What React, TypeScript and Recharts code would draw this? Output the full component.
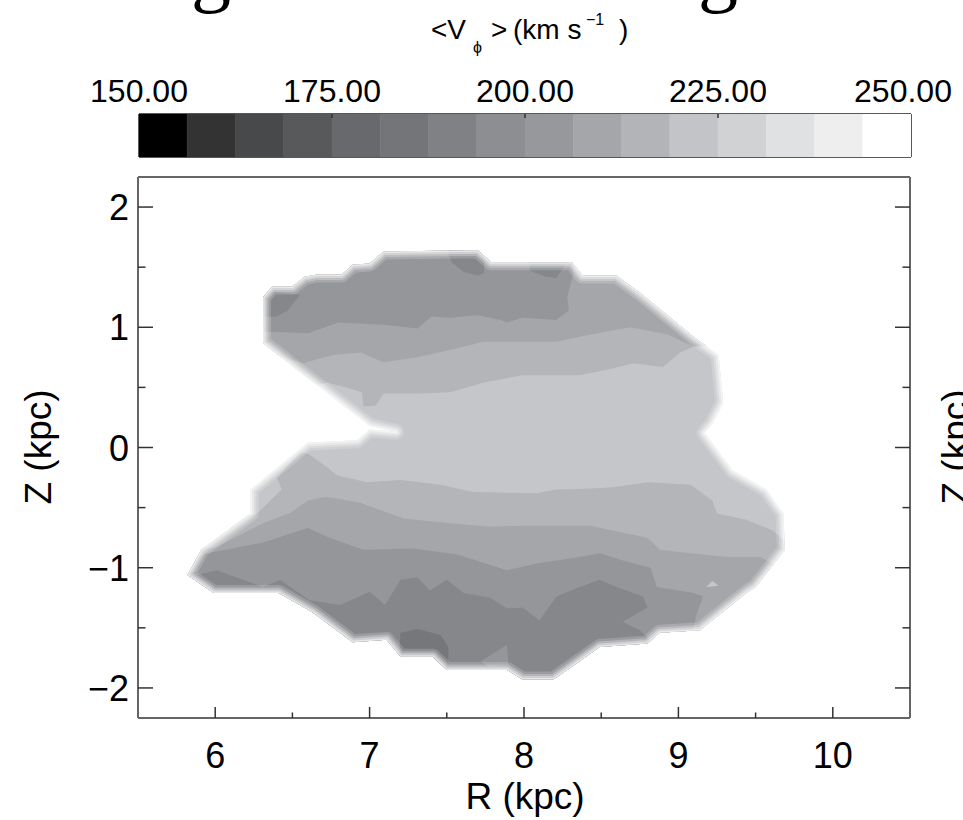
import React from 'react';
import { ComposedChart, Scatter, XAxis, YAxis } from 'recharts';

const FONT = '"Liberation Sans", Arial, Helvetica, sans-serif';

// ---------- colour bar ----------
const cbEdges = [150, 156.25, 162.5, 168.75, 175, 181.25, 187.5, 193.75, 200, 206.25, 212.5, 218.75, 225, 231.25, 237.5, 243.75, 250];
const cbColors = ['#000000', '#333333', '#48494b', '#58595b', '#68696c', '#747578', '#808184', '#8d8e91', '#97989b', '#a5a6a9', '#b3b4b7', '#c3c4c7', '#d1d2d4', '#e0e1e3', '#eeeeee', '#ffffff'];
const cbTicks = [150, 175, 200, 225, 250];
const cbInnerTicks = [175, 200, 225];

// ---------- main axes ----------
const xMajor = [6, 7, 8, 9, 10];
const xMinor = [6.5, 7.5, 8.5, 9.5];
const yMajor = [-2, -1, 0, 1, 2];
const yMinor = [-1.5, -0.5, 0.5, 1.5];

// ---------- <V_phi> contour levels (R kpc, Z kpc) ----------
const levelColors = {
  l12: '#c5c6c9',
  l11: '#b4b5b8',
  l10: '#a5a6a9',
  l9: '#95969a',
  l8: '#86878b',
  l7: '#76777b',
};

const outline: [number, number][] = [
  [6.31, 1.25], [6.37, 1.34], [6.5, 1.34], [6.58, 1.42], [6.66, 1.44], [6.82, 1.44], [6.89, 1.52], [7.0, 1.53],
  [7.09, 1.63], [7.7, 1.64], [7.79, 1.54], [8.31, 1.54], [8.38, 1.43], [8.6, 1.43], [8.75, 1.29], [9.1, 0.92],
  [9.26, 0.77], [9.29, 0.37], [9.22, 0.2], [9.17, 0.12], [9.35, -0.19], [9.57, -0.35], [9.68, -0.55], [9.69, -0.85],
  [9.5, -1.16], [9.44, -1.21], [9.14, -1.52], [8.88, -1.54], [8.8, -1.63], [8.49, -1.66], [8.28, -1.85], [8.19, -1.93],
  [7.99, -1.93], [7.89, -1.85], [7.5, -1.85], [7.41, -1.74], [7.2, -1.74], [7.11, -1.6], [6.89, -1.62], [6.63, -1.37],
  [6.41, -1.21], [5.99, -1.21], [5.82, -1.06], [5.91, -0.85], [6.23, -0.55], [6.23, -0.35], [6.6, 0.04], [6.92, 0.06],
  [7.0, 0.15], [7.17, 0.13], [7.0, 0.18], [6.31, 0.87],
];

const upper11: [number, number][] = [
  [6.23, 0.89], [6.55, 0.52], [6.66, 0.52], [6.72, 0.54], [6.85, 0.5], [6.95, 0.46], [6.96, 0.34], [7.04, 0.35],
  [7.09, 0.45], [7.31, 0.45], [7.52, 0.46], [7.74, 0.54], [7.99, 0.6], [8.36, 0.6], [8.58, 0.66], [8.71, 0.7],
  [8.9, 0.67], [9.01, 0.79], [9.1, 0.84], [9.4, 0.84], [9.4, 2.0], [6.23, 2.0],
];
const upper10: [number, number][] = [
  [6.23, 0.79], [6.44, 0.75], [6.57, 0.7], [6.76, 0.77], [6.94, 0.79], [7.09, 0.71], [7.31, 0.75], [7.52, 0.81],
  [7.74, 0.88], [7.93, 0.88], [8.21, 0.88], [8.43, 0.94], [8.69, 1.0], [8.93, 0.94], [9.1, 0.84], [9.4, 0.89],
  [9.4, 2.0], [6.23, 2.0],
];
const upper9: [number, number][] = [
  [6.23, 0.96], [6.4, 0.96], [6.6, 0.95], [6.8, 1.04], [7.09, 1.02], [7.31, 0.99], [7.4, 1.09], [7.52, 1.08],
  [7.7, 1.1], [7.85, 1.06], [7.89, 1.04], [7.99, 1.08], [8.21, 1.06], [8.29, 1.14], [8.28, 1.25], [8.32, 1.45],
  [8.32, 2.0], [6.23, 2.0],
];
const upper8a: [number, number][] = [[6.2, 1.32], [6.55, 1.27], [6.47, 1.14], [6.4, 1.09], [6.2, 1.08]];
const upper8b: [number, number][] = [[7.49, 1.7], [7.75, 1.7], [7.74, 1.45], [7.7, 1.43], [7.61, 1.46], [7.53, 1.54]];
const upper8c: [number, number][] = [[8.03, 1.6], [8.31, 1.6], [8.21, 1.41], [8.14, 1.42], [8.04, 1.47]];

const lower11: [number, number][] = [
  [5.58, -0.94], [6.19, -0.56], [6.27, -0.55], [6.43, -0.35], [6.4, -0.25], [6.55, -0.04], [6.6, -0.05], [6.72, -0.16],
  [6.79, -0.23], [6.98, -0.29], [7.2, -0.27], [7.46, -0.31], [7.67, -0.37], [8.08, -0.38], [8.21, -0.35], [8.43, -0.34],
  [8.58, -0.33], [8.8, -0.29], [9.08, -0.31], [9.22, -0.44], [9.25, -0.55], [9.44, -0.6], [9.61, -0.69], [9.72, -0.81],
  [9.79, -2.2], [5.58, -2.2],
];
const lower10: [number, number][] = [
  [5.58, -0.84], [5.84, -0.81], [5.99, -0.84], [6.31, -0.63], [6.49, -0.54], [6.6, -0.44], [6.72, -0.41], [6.94, -0.46],
  [7.07, -0.52], [7.22, -0.59], [7.52, -0.63], [7.78, -0.66], [7.99, -0.65], [8.43, -0.65], [8.64, -0.71], [8.8, -0.75],
  [8.88, -0.85], [9.08, -0.88], [9.32, -0.91], [9.53, -0.91], [9.63, -0.98], [9.79, -1.06], [9.79, -2.2], [5.58, -2.2],
];
const lower9: [number, number][] = [
  [5.58, -0.94], [5.84, -0.92], [5.99, -0.87], [6.31, -0.79], [6.6, -0.67], [6.74, -0.75], [6.96, -0.85], [7.28, -0.84],
  [7.57, -0.89], [7.74, -0.96], [7.89, -1.02], [8.1, -0.96], [8.32, -0.92], [8.49, -0.88], [8.64, -0.94], [8.82, -1.0],
  [8.86, -1.16], [9.1, -1.21], [9.16, -1.24], [9.12, -1.38], [9.08, -1.6], [9.08, -2.2], [5.58, -2.2],
];
const lower8: [number, number][] = [
  [5.58, -1.1], [5.88, -1.06], [6.01, -1.02], [6.31, -1.16], [6.42, -1.1], [6.61, -1.27], [6.81, -1.31], [7.0, -1.2],
  [7.1, -1.31], [7.2, -1.1], [7.31, -1.08], [7.39, -1.19], [7.5, -1.1], [7.61, -1.21], [7.78, -1.25], [7.89, -1.34],
  [7.99, -1.33], [8.1, -1.44], [8.21, -1.24], [8.34, -1.17], [8.49, -1.1], [8.6, -1.16], [8.77, -1.24], [8.8, -1.33],
  [8.64, -1.45], [8.75, -1.52], [8.85, -1.64], [8.85, -2.2], [5.58, -2.2],
];
const lower7: [number, number][] = [[7.2, -1.54], [7.31, -1.51], [7.46, -1.56], [7.51, -1.66], [7.51, -1.95], [7.18, -1.95]];
const spot9: [number, number][] = [[7.72, -1.78], [7.89, -1.64], [7.9, -1.81], [7.78, -1.83]];
const spot12: [number, number][] = [[9.18, -1.16], [9.22, -1.11], [9.26, -1.15]];

const toData = (arr: [number, number][]) => arr.map(([r, z]) => ({ r, z }));

const bands: { key: string; pts: [number, number][]; tone: string }[] = [
  { key: 'u11', pts: upper11, tone: levelColors.l11 },
  { key: 'u10', pts: upper10, tone: levelColors.l10 },
  { key: 'u9', pts: upper9, tone: levelColors.l9 },
  { key: 'u8a', pts: upper8a, tone: levelColors.l8 },
  { key: 'u8b', pts: upper8b, tone: levelColors.l8 },
  { key: 'u8c', pts: upper8c, tone: levelColors.l8 },
  { key: 'l11', pts: lower11, tone: levelColors.l11 },
  { key: 'l10', pts: lower10, tone: levelColors.l10 },
  { key: 'l9', pts: lower9, tone: levelColors.l9 },
  { key: 'l8', pts: lower8, tone: levelColors.l8 },
  { key: 'l7', pts: lower7, tone: levelColors.l7 },
  { key: 's9', pts: spot9, tone: levelColors.l9 },
  { key: 's12', pts: spot12, tone: levelColors.l12 },
];

// colour-bar cells as rectangles in (value, 0..1) space
const cbCells = cbColors.map((c, i) => ({
  tone: c,
  pts: [
    { v: cbEdges[i], y: 0 },
    { v: cbEdges[i + 1], y: 0 },
    { v: cbEdges[i + 1], y: 1 },
    { v: cbEdges[i], y: 1 },
  ],
}));

const CLIP_ID = 'vphi-shape-clip';
const ringSteps: [number, number][] = [[16, 0.18], [11, 0.25], [7, 0.35], [3, 0.5]];

type Pt = { x: number; y: number };
const toPath = (points: Pt[] = []) =>
  points.map((p, i) => `${i ? 'L' : 'M'}${p.x.toFixed(2)},${p.y.toFixed(2)}`).join('') + 'Z';

function OutlineFill(props: any) {
  const d = toPath(props.points);
  return (
    <g>
      <defs>
        <clipPath id={CLIP_ID}>
          <path d={d} />
        </clipPath>
      </defs>
      <path d={d} fill={props.tone} stroke="none" />
    </g>
  );
}

function BandFill(props: any) {
  const d = toPath(props.points);
  return <path d={d} fill={props.tone} stroke="none" clipPath={`url(#${CLIP_ID})`} />;
}

function CellFill(props: any) {
  const d = toPath(props.points);
  return <path d={d} fill={props.tone} stroke={props.tone} strokeWidth={0.6} />;
}

function EdgeRing(props: any) {
  const d = toPath(props.points);
  return (
    <g clipPath={`url(#${CLIP_ID})`}>
      {ringSteps.map(([w, o], i) => (
        <path key={i} d={d} fill="none" stroke="#ffffff" strokeOpacity={o} strokeWidth={w} strokeLinejoin="round" />
      ))}
    </g>
  );
}

const NoDot = () => null;

const fmtNum = (v: number) => (v < 0 ? '\u2212' + Math.abs(v) : String(v));

function BottomTick({ x, y, payload }: any) {
  const v = payload.value;
  const major = xMajor.includes(v);
  return (
    <g>
      <line x1={x} y1={y} x2={x} y2={y - (major ? 11 : 5.5)} stroke="#333" strokeWidth={1.5} />
      {major && (
        <text x={x} y={y + 50} textAnchor="middle" fontSize={36} fontFamily={FONT} fill="#000">
          {fmtNum(v)}
        </text>
      )}
    </g>
  );
}
function TopTick({ x, y, payload }: any) {
  const major = xMajor.includes(payload.value);
  return <line x1={x} y1={y} x2={x} y2={y + (major ? 11 : 5.5)} stroke="#333" strokeWidth={1.5} />;
}
function LeftTick({ x, y, payload }: any) {
  const v = payload.value;
  const major = yMajor.includes(v);
  return (
    <g>
      <line x1={x} y1={y} x2={x + (major ? 15 : 7.5)} y2={y} stroke="#333" strokeWidth={1.5} />
      {major && (
        <text x={x - 9} y={y + 13} textAnchor="end" fontSize={36} fontFamily={FONT} fill="#000">
          {fmtNum(v)}
        </text>
      )}
    </g>
  );
}
function RightTick({ x, y, payload }: any) {
  const major = yMajor.includes(payload.value);
  return <line x1={x} y1={y} x2={x - (major ? 15 : 7.5)} y2={y} stroke="#333" strokeWidth={1.5} />;
}

function CbTopTick({ x, y, payload }: any) {
  const v = payload.value;
  const inner = cbInnerTicks.includes(v);
  const shift = v === 250 ? -8 : 0;
  return (
    <g>
      {inner && <line x1={x} y1={y} x2={x} y2={y + 4} stroke="#333" strokeWidth={1.5} />}
      <text x={x + shift} y={y - 12} textAnchor="middle" fontSize={32} fontFamily={FONT} fill="#000">
        {v.toFixed(2)}
      </text>
    </g>
  );
}
function CbBottomTick({ x, y }: any) {
  return <line x1={x} y1={y} x2={x} y2={y - 4} stroke="#333" strokeWidth={1.5} />;
}

const xTicks = [...xMajor, ...xMinor].sort((a, b) => a - b);
const yTicks = [...yMajor, ...yMinor].sort((a, b) => a - b);

export default function App() {
  const frame = { stroke: '#666', strokeWidth: 2 };
  const cbFrame = { stroke: '#222', strokeWidth: 1.5 };
  return (
    <div style={{ position: 'absolute', left: 0, top: 0, width: 963, height: 820, background: '#fff', fontFamily: FONT }}>
      <div style={{ position: 'absolute', left: 0, top: 0 }}>
        <ComposedChart width={963} height={820} margin={{ top: 176, right: 52, bottom: 101, left: 137 }}>
          <XAxis
            dataKey="r"
            type="number"
            domain={[5.5, 10.5]}
            allowDataOverflow
            ticks={xTicks}
            interval={0}
            height={1}
            tickSize={0}
            tickMargin={0}
            tickLine={false}
            axisLine={frame}
            tick={(p: any) => <BottomTick {...p} />}
          />
          <XAxis
            xAxisId="top"
            orientation="top"
            type="number"
            domain={[5.5, 10.5]}
            allowDataOverflow
            ticks={xTicks}
            interval={0}
            height={1}
            tickSize={0}
            tickMargin={0}
            tickLine={false}
            axisLine={frame}
            tick={(p: any) => <TopTick {...p} />}
          />
          <YAxis
            dataKey="z"
            type="number"
            domain={[-2.25, 2.25]}
            allowDataOverflow
            ticks={yTicks}
            interval={0}
            width={1}
            tickSize={0}
            tickMargin={0}
            tickLine={false}
            axisLine={frame}
            tick={(p: any) => <LeftTick {...p} />}
          />
          <YAxis
            yAxisId="right"
            orientation="right"
            type="number"
            domain={[-2.25, 2.25]}
            allowDataOverflow
            ticks={yTicks}
            interval={0}
            width={1}
            tickSize={0}
            tickMargin={0}
            tickLine={false}
            axisLine={frame}
            tick={(p: any) => <RightTick {...p} />}
          />
          <Scatter
            data={toData(outline)}
            line={<OutlineFill tone={levelColors.l12} />}
            shape={<NoDot />}
            isAnimationActive={false}
            legendType="none"
          />
          {bands.map((b) => (
            <Scatter
              key={b.key}
              data={toData(b.pts)}
              line={<BandFill tone={b.tone} />}
              shape={<NoDot />}
              isAnimationActive={false}
              legendType="none"
            />
          ))}
          <Scatter
            data={toData(outline)}
            line={<EdgeRing />}
            shape={<NoDot />}
            isAnimationActive={false}
            legendType="none"
          />
        </ComposedChart>
      </div>

      <div style={{ position: 'absolute', left: 0, top: 0 }}>
        <ComposedChart width={963} height={170} margin={{ top: 113, right: 51, bottom: 12, left: 138 }}>
          <XAxis
            xAxisId="cbTop"
            dataKey="v"
            orientation="top"
            type="number"
            domain={[150, 250]}
            allowDataOverflow
            ticks={cbTicks}
            interval={0}
            height={1}
            tickSize={0}
            tickMargin={0}
            tickLine={false}
            axisLine={cbFrame}
            tick={(p: any) => <CbTopTick {...p} />}
          />
          <XAxis
            xAxisId="cbBottom"
            orientation="bottom"
            type="number"
            domain={[150, 250]}
            allowDataOverflow
            ticks={cbInnerTicks}
            interval={0}
            height={1}
            tickSize={0}
            tickMargin={0}
            tickLine={false}
            axisLine={cbFrame}
            tick={(p: any) => <CbBottomTick {...p} />}
          />
          <YAxis yAxisId="cb" dataKey="y" type="number" domain={[0, 1]} allowDataOverflow width={1} tick={false} tickLine={false} axisLine={cbFrame} />
          <YAxis yAxisId="cbR" orientation="right" type="number" domain={[0, 1]} allowDataOverflow width={1} tick={false} tickLine={false} axisLine={cbFrame} />
          {cbCells.map((cell, i) => (
            <Scatter
              key={i}
              xAxisId="cbTop"
              yAxisId="cb"
              data={cell.pts}
              line={<CellFill tone={cell.tone} />}
              shape={<NoDot />}
              isAnimationActive={false}
              legendType="none"
            />
          ))}
        </ComposedChart>
      </div>

      <svg
        width={963}
        height={820}
        style={{ position: 'absolute', left: 0, top: 0, pointerEvents: 'none' }}
        fontFamily={FONT}
      >
        <text x={191} y={-3} fontSize={80} fontFamily='"Liberation Serif", "Times New Roman", serif' fill="#000">g</text>
        <text x={698} y={-3} fontSize={80} fontFamily='"Liberation Serif", "Times New Roman", serif' fill="#000">g</text>
        <text y={39} fontSize={28} fill="#000">
          <tspan x={431}>&lt;V</tspan>
          <tspan x={473} y={53} fontSize={16}>ϕ</tspan>
          <tspan x={491} y={39}>&gt;</tspan>
          <tspan x={513} y={39}>(km s</tspan>
          <tspan x={586} y={25} fontSize={16}>−1</tspan>
          <tspan x={619} y={39}>)</tspan>
        </text>
        <text x={525} y={809} textAnchor="middle" fontSize={37} fill="#000">R (kpc)</text>
        <text x={51} y={447} textAnchor="middle" fontSize={37} fill="#000" transform="rotate(-90, 51, 447)">Z (kpc)</text>
        <text x={968} y={447} textAnchor="middle" fontSize={37} fill="#000" transform="rotate(-90, 968, 447)">Z (kpc)</text>
      </svg>
    </div>
  );
}
